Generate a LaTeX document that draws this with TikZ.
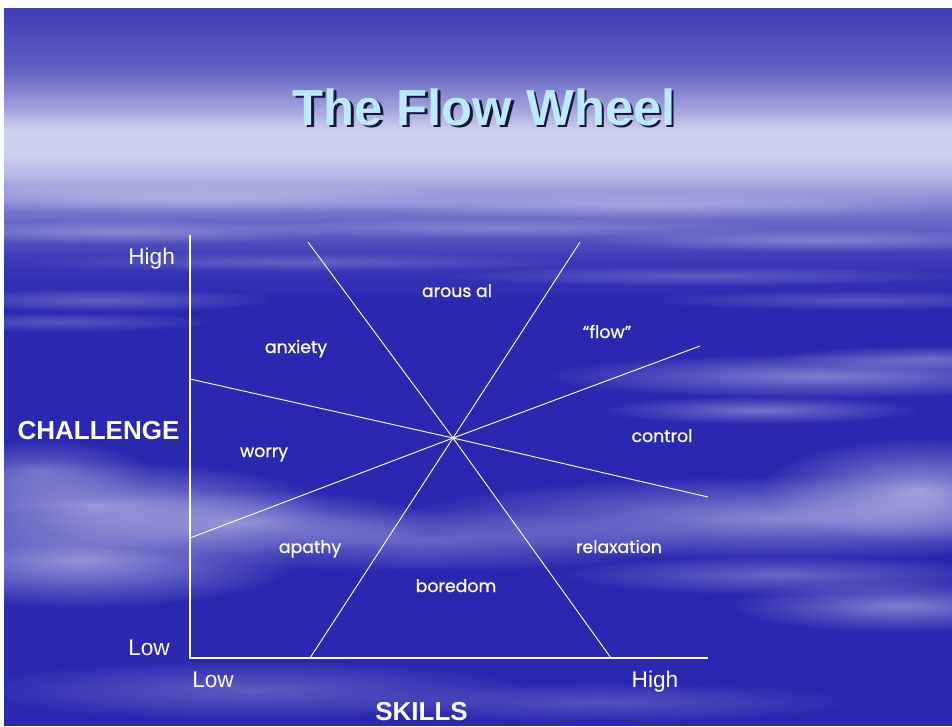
\documentclass[tikz,border=0pt]{standalone}
\usepackage{fontspec}
\setmainfont{Liberation Sans}
\newfontfamily\labfont[FakeBold=0.8]{Poppins}
\usetikzlibrary{fadings}

\definecolor{skyblue}{RGB}{42,40,176}
\definecolor{titlefill}{RGB}{188,234,252}
\definecolor{titleshadow}{RGB}{20,20,56}

% soft radial blob used for the cloud streaks
\tikzfading[name=softblob, inner color=transparent!0, outer color=transparent!100]

% sky gradient of the upper part; the path spans 25bp (lower end) to 75bp (top)
\pgfdeclareverticalshading{skytop}{100bp}{
  color(0bp)=(skyblue);
  color(25bp)=(skyblue);
  color(31.9bp)=(skyblue!92!white);
  color(40bp)=(skyblue!65!white);
  color(46bp)=(skyblue!35!white);
  color(50bp)=(skyblue!22!white);
  color(54bp)=(skyblue!22!white);
  color(58bp)=(skyblue!45!white);
  color(65bp)=(skyblue!75!white);
  color(75bp)=(skyblue!90!white);
  color(100bp)=(skyblue!90!white)}

\newcommand\haze[5]{%
  \fill[white, fill opacity=#5, path fading=softblob] (#1,#2) ellipse ({#3} and {#4});}

\tikzset{
  axis/.style={white, line width=1.5pt},
  divider/.style={white, line width=0.7pt},
  axislabel/.style={text=white, font=\fontsize{17pt}{20pt}\selectfont, inner sep=0pt},
  axistitle/.style={text=white, font=\bfseries\fontsize{19.5pt}{23pt}\selectfont, inner sep=0pt},
  region/.style={text=white, font=\labfont\fontsize{13pt}{15pt}\selectfont, inner sep=0pt, anchor=base},
  titletext/.style={font=\bfseries\fontsize{38pt}{44pt}\selectfont, inner sep=0pt, anchor=base}
}

\begin{document}
\begin{tikzpicture}[x=0.75pt, y=-0.75pt]
\useasboundingbox (0,0) rectangle (952,726);

% sky background
\begin{scope}
  \clip (4,8) rectangle (952,726);
  \fill[skyblue] (4,8) rectangle (952,726);
  \shade[shading=skytop] (4,8) rectangle (952,300);
  % thin streaks under the bright band
  \haze{200}{198}{300}{16}{0.30}
  \haze{650}{205}{320}{14}{0.28}
  \haze{120}{232}{220}{12}{0.28}
  \haze{500}{228}{280}{10}{0.22}
  \haze{820}{240}{240}{12}{0.28}
  \haze{300}{262}{280}{10}{0.22}
  \haze{700}{276}{260}{10}{0.22}
  \haze{100}{300}{180}{12}{0.28}
  \haze{860}{300}{220}{10}{0.22}
  \haze{60}{322}{160}{10}{0.22}
  % streaks on the right
  \haze{820}{376}{280}{22}{0.40}
  \haze{930}{358}{160}{12}{0.30}
  \haze{760}{410}{160}{14}{0.35}
  % lower clouds
  \haze{40}{470}{110}{30}{0.30}
  \haze{90}{505}{240}{44}{0.50}
  \haze{80}{560}{220}{48}{0.50}
  \haze{240}{522}{200}{32}{0.40}
  \haze{420}{540}{280}{32}{0.30}
  \haze{780}{518}{380}{42}{0.45}
  \haze{920}{490}{160}{52}{0.50}
  \haze{780}{575}{220}{20}{0.30}
  \haze{900}{606}{170}{26}{0.40}
  \haze{250}{690}{280}{30}{0.25}
  \haze{600}{702}{260}{20}{0.20}
\end{scope}

% title with its drop shadow
\node[titletext, text=titleshadow] (titleshadow) at (486.5,127.5) {The Flow Wheel};
\node[titletext, text=titlefill] (title) at (484,125) {The Flow Wheel};

% axes
\coordinate (origin) at (190,658);
\coordinate (ytop) at (190,235);
\coordinate (xend) at (708,658);
\draw[axis] (ytop) -- (origin) -- (xend);

% the four lines through the centre of the wheel
\coordinate (c) at (453,438);
\coordinate (d1a) at (308,242);
\coordinate (d1b) at (611,658);
\coordinate (d2a) at (580,242);
\coordinate (d2b) at (310,658);
\coordinate (d3a) at (190,379);
\coordinate (d3b) at (708,497);
\coordinate (d4a) at (190,538);
\coordinate (d4b) at (700,346);
\draw[divider] (d1a) -- (c) -- (d1b);
\draw[divider] (d2a) -- (c) -- (d2b);
\draw[divider] (d3a) -- (c) -- (d3b);
\draw[divider] (d4a) -- (c) -- (d4b);

% axis labels
\node[axislabel, anchor=base west] (yhigh) at (128,264) {High};
\node[axislabel, anchor=base west] (ylow) at (128,655) {Low};
\node[axistitle, anchor=base] (ytitle) at (98.5,439) {CHALLENGE};
\node[axislabel, anchor=base west] (xlow) at (192,687) {Low};
\node[axislabel, anchor=base] (xhigh) at (655,687) {High};
\node[axistitle, anchor=base] (xtitle) at (421.5,720) {SKILLS};

% regions of the wheel
\node[region] (arousal) at (457,297) {arous al};
\node[region] (anxiety) at (296,353) {anxiety};
\node[region] (flow) at (607,338) {“flow”};
\node[region] (control) at (662,442) {control};
\node[region] (worry) at (264,457) {worry};
\node[region] (apathy) at (310,553) {apathy};
\node[region] (relaxation) at (619,553) {relaxation};
\node[region] (boredom) at (456,592) {boredom};
\end{tikzpicture}
\end{document}
